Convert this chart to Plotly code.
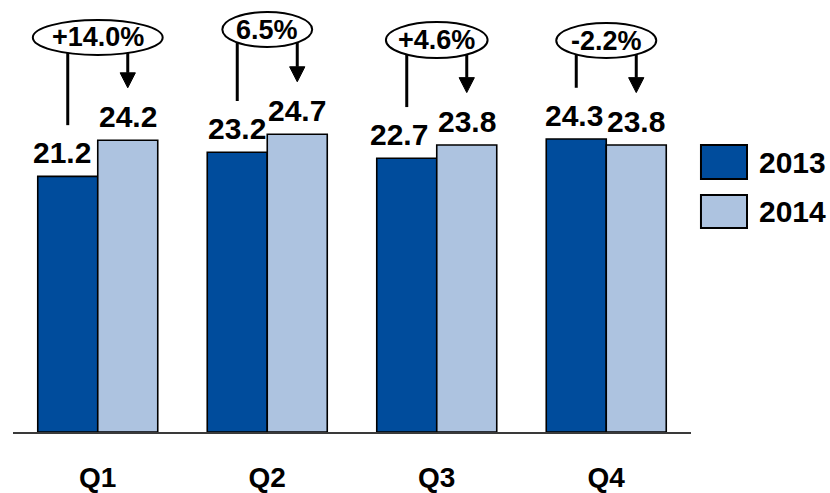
import math
import plotly.graph_objects as go

# Quarterly figures
quarters = ["Q1", "Q2", "Q3", "Q4"]
values_2013 = [21.2, 23.2, 22.7, 24.3]
values_2014 = [24.2, 24.7, 23.8, 23.8]
growth_labels = ["+14.0%", "6.5%", "+4.6%", "-2.2%"]

COLOR_2013 = "#004C9C"
COLOR_2014 = "#ADC3E0"
FONT = "Arial, 'Liberation Sans', sans-serif"

BARGAP = 0.292
bar_off = (1 - BARGAP) / 4          # centre offset of each bar within its group

# horizontal nudges (px) for the 2013 value labels, keeping them clear of their neighbours
label_nudge_2013 = [-6, 0, -8, -2]

# growth bubble geometry (category units horizontally, value units vertically)
bubble_halfw = [0.383, 0.265, 0.30, 0.295]
bubble_cy = [32.72, 33.38, 32.51, 32.47]
bubble_halfh = [1.45, 1.45, 1.49, 1.45]

x_idx = list(range(len(quarters)))

fig = go.Figure()
series = [("2013", values_2013, COLOR_2013, -bar_off, label_nudge_2013),
          ("2014", values_2014, COLOR_2014, bar_off, [0] * len(quarters))]
annotations = []
for name, vals, col, off, nudges in series:
    fig.add_trace(go.Bar(
        x=x_idx, y=vals, name=name,
        marker=dict(color=col, line=dict(color="black", width=1.6)),
        showlegend=False,
    ))
    # value labels sitting above each bar
    for i, v in enumerate(vals):
        annotations.append(dict(x=i + off, y=v, xref="x", yref="y", text=f"<b>{v:.1f}</b>",
                                showarrow=False, xanchor="center", yanchor="bottom",
                                yshift=5, xshift=nudges[i],
                                font=dict(family=FONT, size=30, color="black")))

shapes = []
for i, lab in enumerate(growth_labels):
    a, b, cy = bubble_halfw[i], bubble_halfh[i], bubble_cy[i]
    shapes.append(dict(type="circle", xref="x", yref="y",
                       x0=i - a, x1=i + a, y0=cy - b, y1=cy + b,
                       line=dict(color="black", width=2), fillcolor="white", layer="above"))
    annotations.append(dict(x=i, y=cy, xref="x", yref="y", text=f"<b>{lab}</b>",
                            showarrow=False, font=dict(family=FONT, size=27, color="black")))

    def ellipse_bottom(dx):
        return cy - b * math.sqrt(max(0.0, 1 - (dx / a) ** 2))

    # plain connector down towards the 2013 bar
    xl = i - bar_off
    shapes.append(dict(type="line", xref="x", yref="y",
                       x0=xl, x1=xl, y0=ellipse_bottom(bar_off), y1=values_2013[i] + 4.25,
                       line=dict(color="black", width=3)))
    # arrow down towards the 2014 bar
    xr = i + bar_off
    tip = values_2014[i] + 4.35
    head_h = 1.24
    head_w = 0.045
    shapes.append(dict(type="line", xref="x", yref="y",
                       x0=xr, x1=xr, y0=ellipse_bottom(bar_off), y1=tip + head_h,
                       line=dict(color="black", width=3)))
    shapes.append(dict(type="path", xref="x", yref="y",
                       path=f"M {xr - head_w},{tip + head_h} L {xr + head_w},{tip + head_h} L {xr},{tip} Z",
                       fillcolor="black", line=dict(color="black", width=1)))

# legend drawn as boxes with labels to the right of the plot
legend_items = [("2013", COLOR_2013, 0.680, 0.5995), ("2014", COLOR_2014, 0.5616, 0.4834)]
for name, col, ytop, ybot in legend_items:
    shapes.append(dict(type="rect", xref="paper", yref="paper",
                       x0=1.0147, x1=1.0826, y0=ybot, y1=ytop,
                       fillcolor=col, line=dict(color="black", width=2)))
    annotations.append(dict(x=1.0973, y=(ytop + ybot) / 2, xref="paper", yref="paper",
                            xanchor="left", yanchor="middle", text=f"<b>{name}</b>",
                            showarrow=False, font=dict(family=FONT, size=30, color="black")))

fig.update_layout(
    width=830, height=493,
    margin=dict(l=13, r=139, t=10, b=61, autoexpand=False),
    paper_bgcolor="white", plot_bgcolor="white",
    barmode="group", bargap=BARGAP, bargroupgap=0,
    shapes=shapes, annotations=annotations,
    xaxis=dict(range=[-0.5, 3.5], tickvals=x_idx,
               ticktext=[f"<b>{q}</b>" for q in quarters],
               tickfont=dict(family=FONT, size=28, color="black"),
               showline=True, linecolor="#3a3a3a", linewidth=2,
               showgrid=False, zeroline=False, ticks="", ticklabelstandoff=19,
               automargin=False),
    yaxis=dict(range=[0, 35], visible=False, showgrid=False, zeroline=False,
               automargin=False),
)

fig.write_html("out.html")
